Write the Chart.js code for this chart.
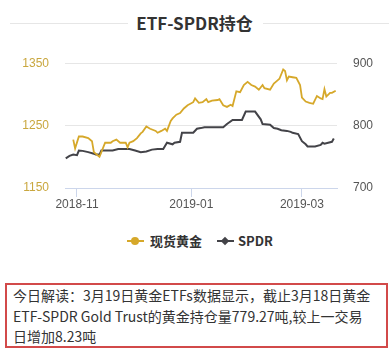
<!DOCTYPE html>
<html>
<head>
<meta charset="utf-8">
<script src="https://cdn.jsdelivr.net/npm/chart.js@4/dist/chart.umd.min.js"></script>
<style>
  body { margin: 0; width: 389px; height: 352px; background: #fff; position: relative; overflow: hidden;
         font-family: "Noto Sans CJK SC", "Noto Sans", sans-serif; }
  #title { position: absolute; left: 0; top: 10px; width: 389px; height: 26px; }
  #title .ln { position: absolute; top: 13px; height: 1px; background: #e6e6e6; }
  #title span { position: absolute; left: 0; width: 389px; top: 0; text-align: center; font-size: 17px;
                font-weight: bold; color: #333; line-height: 26px; }
  #wrap { position: absolute; left: 0; top: 40px; width: 389px; height: 180px; }
  #legend { position: absolute; top: 231px; left: 0; width: 389px; height: 20px; font-size: 13px; font-weight: bold; color: #333; }
  .item { position: absolute; top: 0; line-height: 20px; }
  .sym { position: absolute; top: 9px; width: 17px; height: 2px; }
  .dot { position: absolute; }
  #box { position: absolute; left: 5px; top: 283px; width: 373px; height: 61px; border: 2px solid #d24a4a;
         font-size: 14px; color: #333; line-height: 20.5px; padding: 0 0 0 6px; box-sizing: content-box; }
  #box div { white-space: nowrap; }
</style>
</head>
<body>
<div id="title">
  <div class="ln" style="left:10px;width:118px"></div>
  <div class="ln" style="left:263px;width:126px"></div>
  <span>ETF-SPDR持仓</span>
</div>
<div id="wrap"><canvas id="c"></canvas></div>
<div id="legend">
  <div class="item" style="left:127px">
    <div class="sym" style="left:0;background:#d6a82a"></div>
    <div class="dot" style="left:4px;top:6px;width:8px;height:8px;border-radius:50%;background:#d6a82a"></div>
    <span style="position:absolute;left:23px;white-space:nowrap">现货黄金</span>
  </div>
  <div class="item" style="left:217px">
    <div class="sym" style="left:0;background:#434348"></div>
    <div class="dot" style="left:5px;top:7px;width:6px;height:6px;transform:rotate(45deg);background:#434348"></div>
    <span style="position:absolute;left:21px;white-space:nowrap">SPDR</span>
  </div>
</div>
<div id="box">
  <div>今日解读：3月19日黄金ETFs数据显示，截止3月18日黄金</div>
  <div>ETF-SPDR Gold Trust的黄金持仓量779.27吨,较上一交易</div>
  <div>日增加8.23吨</div>
</div>
<script>
// 现货黄金 (left axis)
const goldDates = ['2018-10-30','2018-10-31','2018-11-02','2018-11-04','2018-11-07','2018-11-09','2018-11-10',
  '2018-11-12','2018-11-13','2018-11-14','2018-11-16','2018-11-19','2018-11-20','2018-11-22','2018-11-24',
  '2018-11-27','2018-11-28','2018-11-29','2018-12-01','2018-12-03','2018-12-05','2018-12-06','2018-12-08',
  '2018-12-10','2018-12-13','2018-12-14','2018-12-16','2018-12-18','2018-12-19','2018-12-21','2018-12-22',
  '2018-12-24','2018-12-26','2018-12-28','2018-12-30','2019-01-02','2019-01-03','2019-01-05','2019-01-07',
  '2019-01-09','2019-01-10','2019-01-12','2019-01-15','2019-01-16','2019-01-18','2019-01-20','2019-01-22',
  '2019-01-23','2019-01-25','2019-01-27','2019-01-29','2019-01-31','2019-02-02','2019-02-04','2019-02-06',
  '2019-02-08','2019-02-09','2019-02-12','2019-02-14','2019-02-16','2019-02-17','2019-02-19','2019-02-20',
  '2019-02-21','2019-02-22','2019-02-24','2019-02-26','2019-02-28','2019-03-01','2019-03-03','2019-03-05',
  '2019-03-07','2019-03-09','2019-03-11','2019-03-12','2019-03-13','2019-03-14','2019-03-16','2019-03-17',
  '2019-03-19'];
const goldValues = [1227.5,1213.5,1232.5,1232.5,1230,1225,1207.5,
  1202.5,1200,1207.5,1222.5,1222.5,1225,1227.5,1222.5,
  1222.5,1215,1222.5,1225,1230,1237.5,1240,1248.5,
  1245,1241.5,1238.5,1241.5,1245,1241.5,1257.5,1261.5,
  1267.5,1270,1277.5,1282.5,1287.5,1293.5,1286.5,1287.5,
  1292.5,1287.5,1290,1291,1292.5,1282.5,1280,1283.5,
  1281.5,1305,1303.5,1315,1320,1315,1312.5,1307.5,
  1315,1310,1307.5,1317.5,1322.5,1325,1340,1337.5,
  1322.5,1328.5,1327.5,1326.5,1315,1295,1288.5,1286.5,
  1285,1297.5,1293.5,1292.5,1308.5,1296.5,1302.5,1302.5,
  1306];

// SPDR 持仓 (right axis, 吨)
const spdrDates = ['2018-10-26','2018-10-28','2018-10-30','2018-11-01','2018-11-02','2018-11-04','2018-11-07',
  '2018-11-10','2018-11-11','2018-11-13','2018-11-14','2018-11-17','2018-11-20','2018-11-23','2018-11-26',
  '2018-11-29','2018-12-02','2018-12-05','2018-12-08','2018-12-11','2018-12-14','2018-12-17','2018-12-19',
  '2018-12-22','2018-12-23','2018-12-26','2018-12-27','2018-12-29','2019-01-02','2019-01-04','2019-01-06',
  '2019-01-08','2019-01-11','2019-01-18','2019-01-20','2019-01-23','2019-01-28','2019-01-30','2019-02-04',
  '2019-02-07','2019-02-08','2019-02-12','2019-02-14','2019-02-16','2019-02-18','2019-02-21','2019-02-23',
  '2019-02-24','2019-02-27','2019-03-01','2019-03-03','2019-03-04','2019-03-08','2019-03-11','2019-03-12',
  '2019-03-13','2019-03-15','2019-03-17','2019-03-18'];
const spdrValues = [747.5,751.5,753.5,752.5,760,759.5,757.5,
  755,753.5,753.5,760,760,760,762.5,762.5,
  762.5,760,757.5,758.5,761.5,762.5,762.5,772.5,
  770,772.5,774,788.5,788.5,788.5,795,796,
  797.5,797.5,797.5,802.5,809,809,822.5,822.5,
  810,802.5,801.5,796,795,792.5,791.5,790,
  788.5,786.5,775,770,766.5,766.5,769,772.5,
  771,772.5,774,779.27];

const xTickDates = ['2018-11-01','2019-01-01','2019-03-01'];
const leftTicks = [1150, 1250, 1350];
const rightTicks = [700, 800, 900];

const GOLD = '#d6a82a';
const DARK = '#434348';
const base = Date.UTC(2018, 10, 1);

function dayOf(s) {
  var p = s.split('-');
  return (Date.UTC(+p[0], +p[1] - 1, +p[2]) - base) / 86400000;
}
function toPoints(dates, values) {
  var out = [];
  for (var i = 0; i < dates.length; i++) out.push({ x: dayOf(dates[i]), y: values[i] });
  return out;
}
var tickLabels = {};
xTickDates.forEach(function (d) { tickLabels[dayOf(d)] = d.slice(0, 7); });

var ctx = document.getElementById('c').getContext('2d');
new Chart(ctx, {
  type: 'line',
  data: {
    datasets: [
      { label: '现货黄金', data: toPoints(goldDates, goldValues), yAxisID: 'y',
        borderColor: GOLD, backgroundColor: GOLD, borderWidth: 1.8, pointRadius: 0, tension: 0 },
      { label: 'SPDR', data: toPoints(spdrDates, spdrValues), yAxisID: 'y1',
        borderColor: DARK, backgroundColor: DARK, borderWidth: 2, pointRadius: 0, tension: 0 }
    ]
  },
  options: {
    responsive: true,
    maintainAspectRatio: false,
    animation: false,
    layout: { padding: { left: 0, right: 0, top: 15, bottom: 0 } },
    plugins: { legend: { display: false }, tooltip: { enabled: false } },
    scales: {
      x: {
        type: 'linear',
        min: -6.4,
        max: 138.7,
        afterBuildTicks: function (s) { s.ticks = xTickDates.map(function (d) { return { value: dayOf(d) }; }); },
        afterFit: function (s) { s.height = 32; },
        ticks: {
          callback: function (v) { return tickLabels[v]; },
          color: '#555', font: { family: 'Liberation Sans', size: 12 }, padding: 0, maxRotation: 0
        },
        grid: { drawOnChartArea: false, color: '#ccd6eb', tickLength: 9 },
        border: { color: '#ccd6eb' }
      },
      y: {
        position: 'left',
        min: 1150, max: 1350,
        afterBuildTicks: function (s) { s.ticks = leftTicks.map(function (v) { return { value: v }; }); },
        afterFit: function (s) { s.width = 65; },
        ticks: { color: '#c9a73f', font: { family: 'Liberation Sans', size: 12 }, padding: 16,
                 callback: function (v) { return String(v); } },
        grid: { drawTicks: false, color: function (c) { return c.tick && c.tick.value === 1150 ? '#ccd6eb' : '#e6e6e6'; } },
        border: { display: false }
      },
      y1: {
        position: 'right',
        min: 700, max: 900,
        afterBuildTicks: function (s) { s.ticks = rightTicks.map(function (v) { return { value: v }; }); },
        afterFit: function (s) { s.width = 52; },
        ticks: { color: '#555', font: { family: 'Liberation Sans', size: 12 }, padding: 16,
                 callback: function (v) { return String(v); } },
        grid: { drawOnChartArea: false, drawTicks: false },
        border: { display: false }
      }
    }
  }
});
</script>
</body>
</html>
